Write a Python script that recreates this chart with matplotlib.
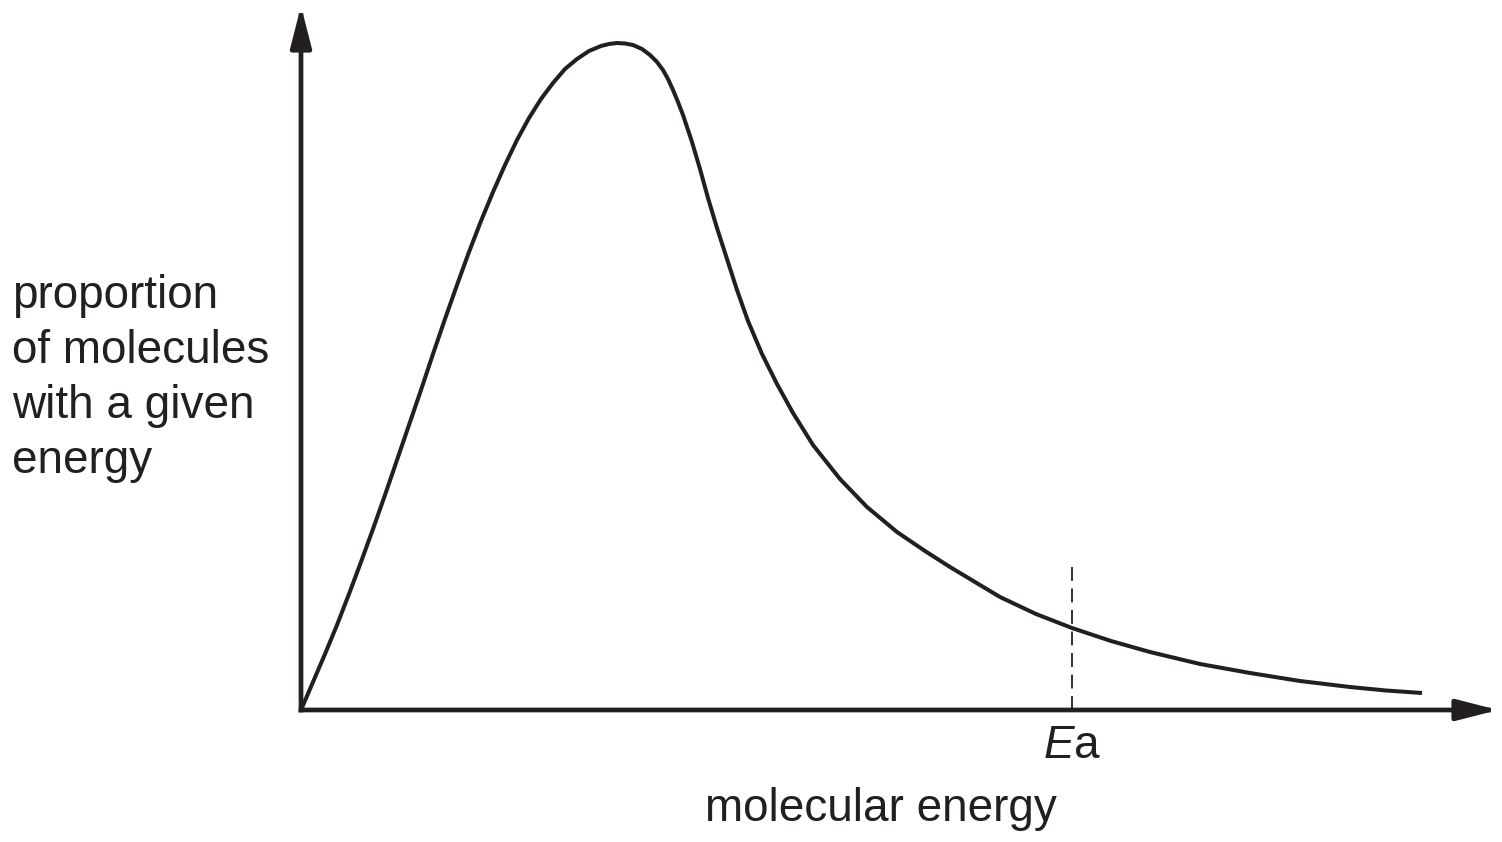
import matplotlib
matplotlib.use("Agg")
import matplotlib.pyplot as plt

plt.rcParams['font.family'] = ['Liberation Sans', 'DejaVu Sans']
plt.rcParams['mathtext.fontset'] = 'custom'
plt.rcParams['mathtext.rm'] = 'Liberation Sans'
plt.rcParams['mathtext.it'] = 'Liberation Sans:italic'
plt.rcParams['lines.scale_dashes'] = False

# distribution curve (arbitrary units)
energy = [0, 12, 24, 36, 48, 60, 72, 84, 96, 108, 120, 132, 144, 156, 168,
          180, 192, 204, 216, 228, 240, 252, 264, 276, 288, 300, 308, 316,
          324, 332, 341, 349, 356, 362, 367, 372, 377, 382, 391, 399, 407,
          416, 426, 436, 447, 461, 476, 492, 512, 539, 566, 596, 624, 649,
          699, 735, 771, 810, 849, 899, 949, 999, 1049, 1085, 1121]
proportion = [0, 28, 56, 85, 116, 148, 181, 215, 250, 285, 320, 356, 391,
              425, 458, 489, 518, 545, 570, 592, 611, 627, 641, 651, 659, 664,
              666, 667, 666.5, 665, 661, 655, 648, 640, 631, 620, 608, 595,
              568, 541, 512, 482, 451, 420, 389, 356, 326, 297, 265, 231,
              203, 178, 159, 143, 113, 96, 82, 69, 58, 46, 37, 29, 23, 19.5,
              17]
ea_value = 771
ea_line_top = 150
x_max = 1197
y_max = 704

ylabel_lines = ['proportion', 'of molecules', 'with a given', 'energy']
xlabel = 'molecular energy'
ea_label = r'$\mathit{E}$a'

ink = '#231f20'
W, H = 1502, 842
fig = plt.figure(figsize=(W / 100, H / 100), dpi=100)
ax = fig.add_axes([301 / W, (H - 710) / H, x_max / W, y_max / H])
ax.set_xlim(0, x_max)
ax.set_ylim(0, y_max)
ax.axis('off')

# axes with arrow heads
arrow = dict(arrowstyle='-|>,head_length=1.25,head_width=0.32', lw=3.4,
             color=ink, shrinkA=0, shrinkB=0, mutation_scale=20,
             capstyle='projecting')
ax.annotate('', xy=(1, 0), xytext=(0, 0), xycoords='axes fraction',
            arrowprops=arrow)
ax.annotate('', xy=(0, 1), xytext=(0, 0), xycoords='axes fraction',
            arrowprops=arrow)

ax.plot(energy, proportion, color=ink, lw=2.9, clip_on=False,
        solid_joinstyle='round', solid_capstyle='butt')
ax.plot([ea_value, ea_value], [0, ea_line_top], color=ink, lw=1.3,
        dashes=(10, 5.5), clip_on=False)

ax.text(ea_value, -48, ea_label, ha='center', va='baseline', fontsize=33,
        color=ink)

fig.text(881 / W, 1 - 821 / H, xlabel, ha='center', va='baseline',
         fontsize=33, color=ink)
for i, line in enumerate(ylabel_lines):
    fig.text(12 / W, 1 - (308 + 55 * i) / H, line, ha='left', va='baseline',
             fontsize=33, color=ink)

fig.savefig('out.png', dpi=100)
